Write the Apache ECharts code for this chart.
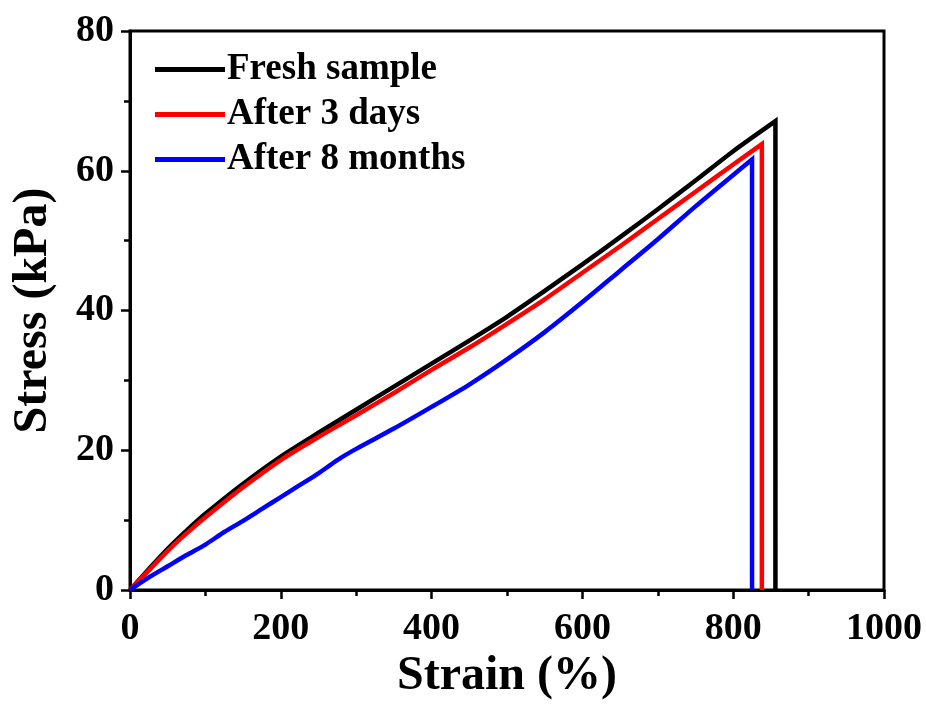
<!DOCTYPE html>
<html>
<head>
<meta charset="utf-8">
<script src="https://cdn.jsdelivr.net/npm/echarts@6/dist/echarts.min.js"></script>
<style>
  html, body { margin: 0; padding: 0; background: #fff; }
  #chart { width: 926px; height: 705px; }
</style>
</head>
<body>
<div id="chart"></div>
<script>
// Strain (%) and stress (kPa)
const seriesNames = ['Fresh sample', 'After 3 days', 'After 8 months'];

const freshStrain = [0, 25, 50, 75, 100, 150, 200, 250, 300, 350, 400, 450, 500, 550, 600, 650, 700, 750, 800, 856, 856];
const freshStress = [0, 3.0, 5.9, 8.5, 10.9, 15.2, 19.1, 22.5, 25.8, 29.1, 32.4, 35.7, 39.1, 42.8, 46.6, 50.5, 54.5, 58.6, 62.8, 67.1, 0];

const days3Strain = [0, 25, 50, 75, 100, 150, 200, 250, 300, 350, 400, 450, 500, 550, 600, 650, 700, 750, 800, 838, 838];
const days3Stress = [0, 2.8, 5.6, 8.1, 10.4, 14.7, 18.6, 21.9, 25.0, 28.2, 31.5, 34.7, 38.1, 41.6, 45.4, 49.2, 53.1, 57.0, 60.9, 63.8, 0];

const months8Strain = [0, 25, 50, 75, 100, 125, 150, 175, 200, 225, 250, 275, 300, 350, 400, 450, 500, 550, 600, 650, 700, 750, 800, 825, 825];
const months8Stress = [0, 1.8, 3.4, 5.0, 6.5, 8.3, 9.9, 11.6, 13.3, 15.0, 16.7, 18.6, 20.2, 23.1, 26.2, 29.4, 33.0, 36.9, 41.2, 45.7, 50.2, 54.9, 59.4, 61.6, 0];

const colors = ['#000000', '#ff0000', '#0000ff'];

const zip = (xs, ys) => xs.map((x, i) => [x, ys[i]]);

const chart = echarts.init(document.getElementById('chart'));

const font = 'Liberation Serif';

const lineSeries = (name, data, color) => ({
  name: name,
  type: 'line',
  data: data,
  symbol: 'none',
  smooth: 0.25,
  lineStyle: { color: color, width: 4.5, join: 'miter' },
  itemStyle: { color: color }
});

const axisCommon = {
  type: 'value',
  nameLocation: 'middle',
  nameTextStyle: { fontFamily: font, fontWeight: 'bold', fontSize: 48, color: '#000' },
  axisLine: { show: true, lineStyle: { color: '#000', width: 3 } },
  axisTick: { show: true, length: 9, lineStyle: { color: '#000', width: 2.5 } },
  minorTick: { show: true, splitNumber: 2, length: 6, lineStyle: { color: '#000', width: 2.5 } },
  splitLine: { show: false },
  axisLabel: { fontFamily: font, fontWeight: 'bold', fontSize: 38, color: '#000', formatter: (v) => String(v) }
};

const option = {
  backgroundColor: '#ffffff',
  animation: false,
  grid: {
    left: 130, right: 42, top: 31, bottom: 115,
    outerBoundsMode: 'none',
    show: true, borderColor: '#000', borderWidth: 3, backgroundColor: 'transparent'
  },
  legend: {
    left: 150, top: 46,
    orient: 'vertical',
    icon: 'rect',
    itemWidth: 70, itemHeight: 5,
    itemGap: 8,
    data: seriesNames,
    textStyle: { fontFamily: font, fontWeight: 'bold', fontSize: 37, color: '#000', padding: [0, 0, 0, -3] }
  },
  xAxis: Object.assign({}, axisCommon, {
    min: 0, max: 1000, interval: 200,
    name: 'Strain (%)',
    nameGap: 62,
    axisLabel: Object.assign({}, axisCommon.axisLabel, { margin: 20 })
  }),
  yAxis: Object.assign({}, axisCommon, {
    min: 0, max: 80, interval: 20,
    name: 'Stress (kPa)',
    nameGap: 72,
    axisLabel: Object.assign({}, axisCommon.axisLabel, { margin: 16 })
  }),
  series: [
    lineSeries(seriesNames[0], zip(freshStrain, freshStress), colors[0]),
    lineSeries(seriesNames[1], zip(days3Strain, days3Stress), colors[1]),
    lineSeries(seriesNames[2], zip(months8Strain, months8Stress), colors[2])
  ]
};

chart.setOption(option);
</script>
</body>
</html>
